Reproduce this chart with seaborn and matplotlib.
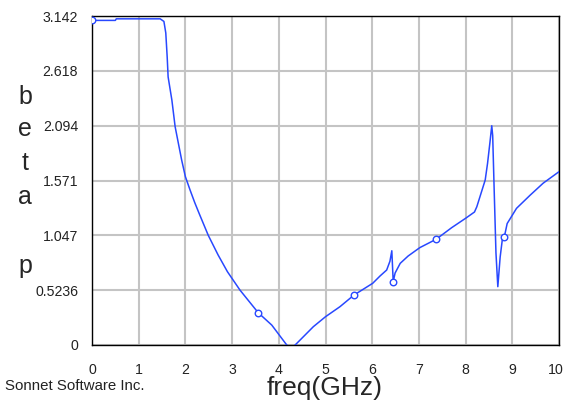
import matplotlib
matplotlib.use("Agg")
import matplotlib.pyplot as plt
import matplotlib.transforms as mtransforms
import seaborn as sns
import pandas as pd

freq = [0.0, 0.5, 0.52, 1.46, 1.54, 1.58, 1.61, 1.63, 1.71, 1.78, 1.85, 1.92, 2.0,
        2.1, 2.2, 2.3, 2.49, 2.7, 2.9, 3.17, 3.56, 3.85, 4.17, 4.26, 4.35,
        4.74, 5.0, 5.31, 5.61, 6.01, 6.17, 6.31, 6.38, 6.42, 6.45, 6.49, 6.6, 6.77,
        7.02, 7.37, 7.7, 8.0, 8.19, 8.24, 8.42, 8.47, 8.52, 8.56, 8.58, 8.61, 8.65,
        8.69, 8.74, 8.79, 8.83, 8.89, 8.98, 9.09, 9.38, 9.66, 10.0]
beta = [3.10, 3.10, 3.115, 3.115, 3.09, 2.98, 2.75, 2.56, 2.34, 2.085, 1.925, 1.766, 1.607,
        1.48, 1.36, 1.25, 1.047, 0.86, 0.70, 0.5236, 0.308, 0.19, 0.0, -0.03, 0.0,
        0.175, 0.27, 0.366, 0.477, 0.589, 0.66, 0.716, 0.80, 0.90, 0.605, 0.687, 0.78, 0.85,
        0.93, 1.01, 1.12, 1.21, 1.27, 1.32, 1.576, 1.735, 1.93, 2.094, 2.0, 1.51, 0.88,
        0.557, 0.84, 1.02, 1.034, 1.16, 1.225, 1.305, 1.43, 1.545, 1.655]

marker_freq = [0.0, 3.56, 5.61, 6.45, 7.37, 8.83]
marker_beta = [3.10, 0.308, 0.477, 0.605, 1.01, 1.034]

x_ticks = [0, 1, 2, 3, 4, 5, 6, 7, 8, 9, 10]
y_ticks = [0, 0.5236, 1.047, 1.571, 2.094, 2.618, 3.142]
y_tick_labels = ["0", "0.5236", "1.047", "1.571", "2.094", "2.618", "3.142"]

sns.set_style("white")
plt.rcParams['font.family'] = ['Liberation Sans', 'DejaVu Sans']

fig = plt.figure(figsize=(5.65, 4.08), dpi=100)
ax = fig.add_axes([92/565, 1-345/408, (559-92)/565, (345-16)/408])

df = pd.DataFrame({"freq": freq, "beta": beta})
mdf = pd.DataFrame({"freq": marker_freq, "beta": marker_beta})

sns.lineplot(data=df, x="freq", y="beta", ax=ax, color="#2848ff", linewidth=1.1,
             sort=False, estimator=None, zorder=3)
sns.scatterplot(data=mdf, x="freq", y="beta", ax=ax, marker="o", s=22,
                facecolor="white", edgecolor="#2848ff", linewidth=1.0, zorder=4)

ax.set_xlim(0, 10)
ax.set_ylim(0, 3.142)
ax.set_xticks(x_ticks)
ax.set_xticklabels([str(t) for t in x_ticks])
ax.set_yticks(y_ticks)
ax.set_yticklabels(y_tick_labels)
ax.grid(True, color="#c4c4c4", linewidth=1.5)
ax.set_axisbelow(True)
for s in ax.spines.values():
    s.set_color("black")
    s.set_linewidth(1.0)
ax.tick_params(axis="both", direction="out", length=7, width=1, color="#aaaaaa",
               labelsize=10.2, labelcolor="#222222", pad=3)
ax.tick_params(axis="x", pad=6)
ax.set_xlabel("")
ax.set_ylabel("")

last = ax.get_xticklabels()[-1]
last.set_transform(last.get_transform() +
                   mtransforms.ScaledTranslation(-0.03, 0, fig.dpi_scale_trans))

fig.text(325/565, 1-388/408, "freq(GHz)", fontsize=19, ha="center", va="center")
for letter, yp in zip(["b", "e", "t", "a", "p"], [97, 129, 163, 197, 266]):
    fig.text(25/565, 1-yp/408, letter, fontsize=18, ha="center", va="center")
fig.text(5/565, 1-386/408, "Sonnet Software Inc.", fontsize=10.8, ha="left", va="center",
         color="#222222")

fig.savefig("out.png", dpi=100, facecolor="white")
